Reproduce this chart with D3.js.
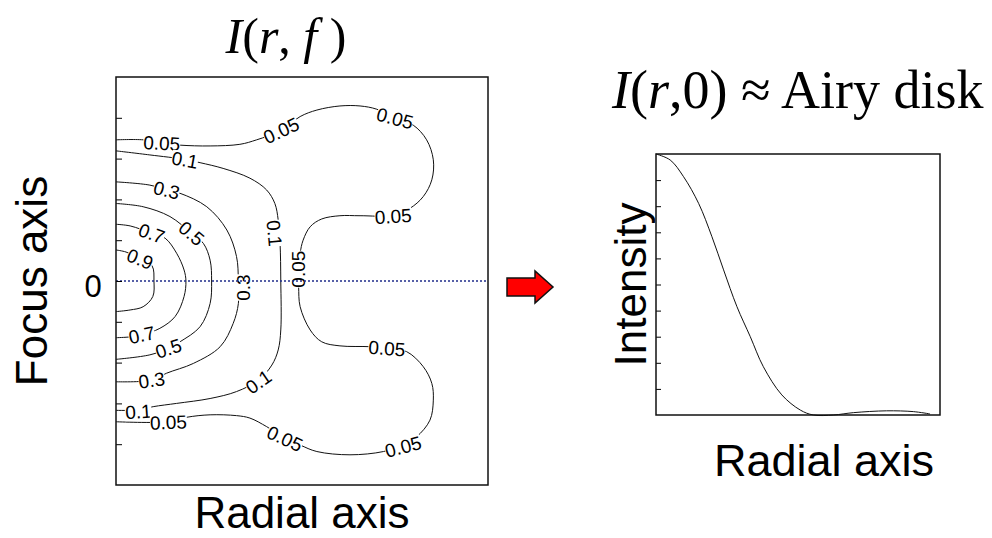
<!DOCTYPE html>
<html>
<head>
<meta charset="utf-8">
<script src="https://cdn.jsdelivr.net/npm/d3@7"></script>
<style>
  body { margin: 0; background: #fff; }
  svg { display: block; }
</style>
</head>
<body>
<svg id="canvas"></svg>
<script>
// ---------------- data ----------------
// contour lines of I(r,f), each point is [r, f]
let c005 = [[0, 3.46], [0.073, 3.46], [0.123, 3.38], [0.172, 3.33], [0.253, 3.31], [0.333, 3.35], [0.378, 3.46],
  [0.444, 3.69], [0.495, 4.03], [0.540, 4.19], [0.602, 4.29], [0.656, 4.29], [0.701, 4.21], [0.750, 3.99],
  [0.799, 3.82], [0.835, 3.46], [0.853, 2.97], [0.849, 2.48], [0.826, 2.07], [0.790, 1.78], [0.745, 1.61],
  [0.656, 1.60], [0.602, 1.60], [0.553, 1.52], [0.522, 1.33], [0.503, 1.00], [0.495, 0.68], [0.491, 0.27],
  [0.491, -0.14], [0.495, -0.63], [0.522, -1.20], [0.553, -1.49], [0.602, -1.59], [0.683, -1.61], [0.728, -1.65],
  [0.781, -1.73], [0.826, -2.10], [0.849, -2.51], [0.853, -2.92], [0.844, -3.41], [0.808, -3.82], [0.772, -4.02],
  [0.719, -4.18], [0.629, -4.26], [0.540, -4.18], [0.495, -4.02], [0.452, -3.84], [0.405, -3.57], [0.360, -3.36],
  [0.324, -3.30], [0.253, -3.28], [0.190, -3.34], [0.141, -3.45], [0, -3.45]]
let c01 = [[0, 3.19], [0.091, 3.09], [0.185, 2.98], [0.226, 2.90], [0.288, 2.76], [0.360, 2.52], [0.405, 2.23],
  [0.427, 1.90], [0.436, 1.50], [0.441, 0.92], [0.443, 0], [0.443, -1.20], [0.436, -1.69], [0.419, -2.06],
  [0.383, -2.43], [0.324, -2.71], [0.253, -2.88], [0.163, -3.00], [0.100, -3.08], [0.060, -3.16], [0, -3.17]]
let c03 = [[0, 2.43], [0.091, 2.35], [0.136, 2.23], [0.172, 2.15], [0.244, 1.82], [0.298, 1.25], [0.324, 0.60],
  [0.329, 0], [0.329, -0.55], [0.315, -1.04], [0.280, -1.61], [0.208, -2.02], [0.136, -2.26], [0.096, -2.43], [0, -2.47]]
let c05 = [[0, 1.90], [0.073, 1.82], [0.145, 1.58], [0.203, 1.17], [0.235, 0.92], [0.253, 0.51], [0.257, 0],
  [0.253, -0.55], [0.226, -1.12], [0.172, -1.49], [0.141, -1.65], [0.091, -1.81], [0, -1.92]]
let c07 = [[0, 1.39], [0.038, 1.35], [0.096, 1.17], [0.132, 1.05], [0.163, 0.68], [0.183, 0.27], [0.188, 0],
  [0.183, -0.38], [0.159, -0.87], [0.118, -1.16], [0.069, -1.32], [0.038, -1.37], [0, -1.39]]
let c09 = [[0, 0.76], [0.027, 0.71], [0.065, 0.54], [0.097, 0.37], [0.102, 0], [0.099, -0.38], [0.073, -0.63],
  [0.038, -0.71], [0, -0.75]]

// contour labels: [text, r, f, angle]
let contourLabels = [
  ['0.05', 0.123, 3.38, 3], ['0.1', 0.185, 2.97, 10], ['0.3', 0.136, 2.23, 14], ['0.5', 0.203, 1.17, 40],
  ['0.7', 0.096, 1.17, 20], ['0.9', 0.065, 0.54, 22], ['0.05', 0.444, 3.69, -25], ['0.05', 0.750, 3.99, 15],
  ['0.05', 0.745, 1.59, -4], ['0.05', 0.491, 0.29, -90], ['0.3', 0.341, -0.16, -90], ['0.1', 0.426, 1.17, 85],
  ['0.7', 0.069, -1.32, -12], ['0.5', 0.141, -1.65, -18], ['0.3', 0.096, -2.43, -8], ['0.1', 0.383, -2.47, -35],
  ['0.1', 0.060, -3.20, -4], ['0.05', 0.141, -3.46, -2], ['0.05', 0.454, -3.86, 25], ['0.05', 0.772, -4.06, -15],
  ['0.05', 0.728, -1.65, 4]]

let focusTicks = [-4, -3, -2, -1, 0, 1, 2, 3, 4]

// I(r,0) profile
let airyR = [0, 0.050, 0.097, 0.150, 0.197, 0.238, 0.285, 0.332, 0.378, 0.443, 0.508, 0.554, 0.625, 0.695, 0.812, 0.906, 0.965]
let airyI = [1, 0.977, 0.913, 0.811, 0.683, 0.556, 0.415, 0.300, 0.185, 0.077, 0.019, 0, 0, 0.009, 0.016, 0.013, 0.004]
let intensityTicks = [0.1, 0.2, 0.3, 0.4, 0.5, 0.6, 0.7, 0.8, 0.9]

// ---------------- layout ----------------
let width = 992
let height = 538
let sans = '"Liberation Sans", Arial, sans-serif'
let serif = '"Liberation Serif", "Times New Roman", serif'

let canvas = d3.select('#canvas')
canvas.attr('width', width).attr('height', height)

let xScale = d3.scaleLinear().domain([0, 1]).range([116, 488])
let yScale = d3.scaleLinear().domain([-5, 5]).range([485, 77])
let rScale = d3.scaleLinear().domain([0, 1]).range([656, 940])
let iScale = d3.scaleLinear().domain([0, 1]).range([415, 154])

// ---------------- left: contour map ----------------
let contourLine = d3.line()
  .x(d => xScale(d[0]))
  .y(d => yScale(d[1]))
  .curve(d3.curveCatmullRom.alpha(0.5))

canvas.append('g')
  .selectAll('path')
  .data([c005, c01, c03, c05, c07, c09])
  .enter()
  .append('path')
  .attr('d', contourLine)
  .attr('fill', 'none')
  .attr('stroke', '#111')
  .attr('stroke-width', 1)

// labels sit on a white patch that cuts the line
let labels = canvas.append('g')
  .selectAll('g')
  .data(contourLabels)
  .enter()
  .append('g')
  .attr('transform', d => 'translate(' + xScale(d[1]) + ',' + yScale(d[2]) + ') rotate(' + d[3] + ')')

labels.append('text')
  .attr('text-anchor', 'middle')
  .attr('dy', '0.36em')
  .style('font-family', sans)
  .style('font-size', '19px')
  .text(d => d[0])

labels.each(function () {
  let g = d3.select(this)
  let b = g.select('text').node().getBBox()
  g.insert('rect', 'text')
    .attr('x', b.x).attr('y', b.y + 2)
    .attr('width', b.width).attr('height', b.height - 4)
    .attr('fill', '#fff')
})

canvas.append('line')
  .attr('x1', xScale(0)).attr('x2', xScale(1))
  .attr('y1', yScale(0)).attr('y2', yScale(0))
  .attr('stroke', '#1f2d8a')
  .attr('stroke-width', 1.5)
  .attr('stroke-dasharray', '2,2')

canvas.append('g')
  .attr('transform', 'translate(' + xScale(0) + ',0)')
  .call(d3.axisLeft(yScale).tickValues(focusTicks).tickSize(-6).tickFormat(''))
  .call(g => g.select('.domain').remove())

canvas.append('rect')
  .attr('x', xScale(0)).attr('y', yScale(5))
  .attr('width', xScale(1) - xScale(0)).attr('height', yScale(-5) - yScale(5))
  .attr('fill', 'none').attr('stroke', '#111').attr('stroke-width', 1.5)

canvas.append('text')
  .attr('x', 93).attr('y', yScale(0) + 16)
  .attr('text-anchor', 'middle')
  .style('font-family', sans).style('font-size', '31px')
  .text('0')

canvas.append('text')
  .attr('transform', 'translate(47,' + yScale(0) + ') rotate(-90)')
  .attr('text-anchor', 'middle')
  .style('font-family', sans).style('font-size', '44px')
  .text('Focus axis')

canvas.append('text')
  .attr('x', (xScale(0) + xScale(1)) / 2).attr('y', 528)
  .attr('text-anchor', 'middle')
  .style('font-family', sans).style('font-size', '44px')
  .text('Radial axis')

let t1 = canvas.append('text')
  .attr('x', 286).attr('y', 53)
  .attr('text-anchor', 'middle')
  .style('font-family', serif).style('font-size', '50px')
t1.append('tspan').style('font-style', 'italic').text('I')
t1.append('tspan').text('(')
t1.append('tspan').style('font-style', 'italic').text('r')
t1.append('tspan').text(', ')
t1.append('tspan').style('font-style', 'italic').text('f')
t1.append('tspan').text(' )')

// ---------------- arrow ----------------
canvas.append('path')
  .attr('d', 'M507,278 L535,278 L535,271 L553,287 L535,303 L535,296 L507,296 Z')
  .attr('fill', '#ff0000')
  .attr('stroke', '#111')
  .attr('stroke-width', 1.5)

// ---------------- right: I(r,0) ----------------
let airyLine = d3.line()
  .x(i => rScale(airyR[i]))
  .y(i => iScale(airyI[i]))
  .curve(d3.curveCatmullRom.alpha(0.5))

canvas.append('path')
  .attr('d', airyLine(d3.range(airyR.length)))
  .attr('fill', 'none')
  .attr('stroke', '#111')
  .attr('stroke-width', 1)

canvas.append('g')
  .attr('transform', 'translate(' + rScale(0) + ',0)')
  .call(d3.axisLeft(iScale).tickValues(intensityTicks).tickSize(-5).tickFormat(''))
  .call(g => g.select('.domain').remove())

canvas.append('rect')
  .attr('x', rScale(0)).attr('y', iScale(1))
  .attr('width', rScale(1) - rScale(0)).attr('height', iScale(0) - iScale(1))
  .attr('fill', 'none').attr('stroke', '#111').attr('stroke-width', 1.5)

canvas.append('text')
  .attr('transform', 'translate(646,' + iScale(0.5) + ') rotate(-90)')
  .attr('text-anchor', 'middle')
  .style('font-family', sans).style('font-size', '44px')
  .text('Intensity')

canvas.append('text')
  .attr('x', 824).attr('y', 476)
  .attr('text-anchor', 'middle')
  .style('font-family', sans).style('font-size', '45px')
  .text('Radial axis')

let t2 = canvas.append('text')
  .attr('x', 612).attr('y', 108)
  .style('font-family', serif).style('font-size', '54px')
t2.append('tspan').style('font-style', 'italic').text('I')
t2.append('tspan').text('(')
t2.append('tspan').style('font-style', 'italic').text('r')
t2.append('tspan').text(',0) ≈ Airy disk')
</script>
</body>
</html>
